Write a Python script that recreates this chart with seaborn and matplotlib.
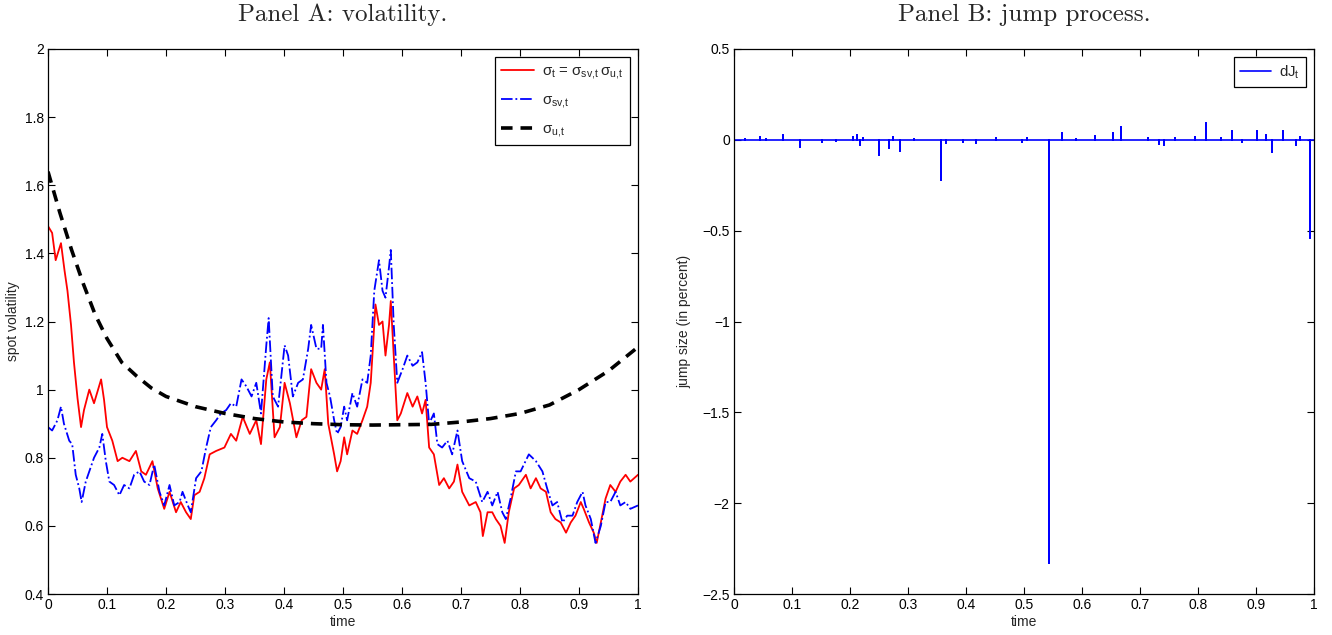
import numpy as np
import pandas as pd
import matplotlib
matplotlib.use("Agg")
import matplotlib.pyplot as plt
import seaborn as sns

# ---------------- data ----------------
t_total = [0, 0.007, 0.013, 0.022, 0.028, 0.033, 0.039, 0.044, 0.05, 0.056,
           0.061, 0.07, 0.078, 0.09, 0.095, 0.1, 0.109, 0.118, 0.126, 0.138,
           0.149, 0.158, 0.166, 0.177, 0.186, 0.197, 0.206, 0.217, 0.225, 0.234,
           0.242, 0.248, 0.257, 0.265, 0.274, 0.285, 0.299, 0.31, 0.319, 0.33,
           0.342, 0.353, 0.361, 0.37, 0.376, 0.384, 0.393, 0.401, 0.41, 0.421,
           0.43, 0.438, 0.446, 0.455, 0.463, 0.469, 0.475, 0.485, 0.49, 0.496,
           0.502, 0.507, 0.516, 0.524, 0.533, 0.541, 0.547, 0.553, 0.555, 0.561,
           0.567, 0.572, 0.578, 0.581, 0.586, 0.592, 0.598, 0.609, 0.618, 0.626,
           0.634, 0.64, 0.646, 0.654, 0.663, 0.671, 0.68, 0.688, 0.694, 0.702,
           0.714, 0.725, 0.733, 0.737, 0.745, 0.753, 0.759, 0.767, 0.774, 0.781,
           0.79, 0.798, 0.81, 0.818, 0.827, 0.835, 0.844, 0.852, 0.86, 0.869,
           0.878, 0.886, 0.894, 0.903, 0.908, 0.917, 0.925, 0.93, 0.937, 0.945,
           0.953, 0.962, 0.97, 0.979, 0.987, 1.0]
sigma_total = [1.48, 1.46, 1.38, 1.43, 1.35, 1.29, 1.19, 1.08, 0.975, 0.89,
               0.94, 1.0, 0.96, 1.03, 0.97, 0.89, 0.85, 0.79, 0.80, 0.79,
               0.82, 0.76, 0.75, 0.79, 0.71, 0.65, 0.70, 0.64, 0.67, 0.64,
               0.62, 0.69, 0.70, 0.74, 0.81, 0.82, 0.83, 0.87, 0.85, 0.92,
               0.87, 0.91, 0.84, 1.03, 1.08, 0.86, 0.89, 1.02, 0.96, 0.86,
               0.91, 0.92, 1.06, 1.02, 1.0, 1.06, 0.90, 0.81, 0.76, 0.79,
               0.86, 0.81, 0.88, 0.87, 0.91, 0.95, 1.02, 1.19, 1.25, 1.19,
               1.20, 1.10, 1.19, 1.26, 1.10, 0.91, 0.93, 0.99, 0.95, 0.98,
               0.93, 0.97, 0.83, 0.81, 0.72, 0.74, 0.71, 0.73, 0.78, 0.70,
               0.66, 0.67, 0.64, 0.57, 0.64, 0.64, 0.62, 0.60, 0.55, 0.64,
               0.71, 0.72, 0.75, 0.71, 0.74, 0.71, 0.70, 0.64, 0.62, 0.61,
               0.58, 0.61, 0.63, 0.67, 0.65, 0.61, 0.58, 0.55, 0.61, 0.68,
               0.72, 0.70, 0.73, 0.75, 0.73, 0.75]

t_sv = [0, 0.007, 0.016, 0.022, 0.027, 0.036, 0.041, 0.047, 0.053, 0.057,
        0.064, 0.07, 0.078, 0.087, 0.092, 0.098, 0.104, 0.112, 0.121, 0.129,
        0.138, 0.146, 0.155, 0.163, 0.172, 0.18, 0.189, 0.197, 0.206, 0.214,
        0.223, 0.228, 0.237, 0.242, 0.251, 0.26, 0.268, 0.276, 0.285, 0.293,
        0.302, 0.31, 0.319, 0.328, 0.336, 0.345, 0.353, 0.361, 0.37, 0.374,
        0.381, 0.39, 0.401, 0.407, 0.415, 0.424, 0.432, 0.441, 0.446, 0.455,
        0.463, 0.466, 0.472, 0.478, 0.485, 0.49, 0.496, 0.502, 0.507, 0.516,
        0.524, 0.533, 0.541, 0.547, 0.553, 0.561, 0.567, 0.572, 0.578, 0.581,
        0.586, 0.592, 0.601, 0.609, 0.618, 0.626, 0.634, 0.64, 0.646, 0.654,
        0.66, 0.668, 0.677, 0.685, 0.694, 0.702, 0.714, 0.725, 0.736, 0.745,
        0.753, 0.762, 0.77, 0.776, 0.784, 0.793, 0.801, 0.815, 0.827, 0.838,
        0.846, 0.855, 0.863, 0.872, 0.88, 0.889, 0.897, 0.906, 0.911, 0.92,
        0.928, 0.937, 0.945, 0.953, 0.962, 0.97, 0.979, 0.987, 1.0]
sigma_sv = [0.89, 0.88, 0.91, 0.95, 0.90, 0.85, 0.84, 0.75, 0.71, 0.67,
            0.73, 0.76, 0.80, 0.83, 0.87, 0.79, 0.73, 0.72, 0.69, 0.72,
            0.71, 0.75, 0.76, 0.73, 0.72, 0.78, 0.70, 0.66, 0.72, 0.66,
            0.67, 0.70, 0.66, 0.64, 0.74, 0.76, 0.83, 0.89, 0.91, 0.93,
            0.94, 0.96, 0.95, 1.03, 1.01, 0.98, 1.02, 0.93, 1.13, 1.21,
            0.98, 0.95, 1.13, 1.10, 0.98, 1.02, 1.03, 1.12, 1.19, 1.12,
            1.12, 1.19, 1.02, 0.98, 0.91, 0.87, 0.89, 0.95, 0.91, 0.99,
            0.95, 1.03, 1.02, 1.10, 1.29, 1.38, 1.29, 1.27, 1.36, 1.41,
            1.19, 1.02, 1.06, 1.10, 1.07, 1.08, 1.11, 1.02, 0.90, 0.93,
            0.84, 0.83, 0.85, 0.81, 0.88, 0.79, 0.74, 0.73, 0.67, 0.70,
            0.66, 0.70, 0.64, 0.62, 0.68, 0.76, 0.76, 0.81, 0.79, 0.76,
            0.71, 0.66, 0.67, 0.61, 0.63, 0.63, 0.67, 0.70, 0.66, 0.62,
            0.55, 0.60, 0.67, 0.67, 0.70, 0.66, 0.67, 0.65, 0.66]

t_u = [0, 0.01, 0.02, 0.03, 0.04, 0.06, 0.08, 0.1, 0.125, 0.15, 0.175, 0.2,
       0.25, 0.3, 0.35, 0.4, 0.45, 0.5, 0.55, 0.6, 0.65, 0.7, 0.75, 0.8,
       0.85, 0.9, 0.95, 1.0]
sigma_u = [1.64, 1.58, 1.52, 1.465, 1.41, 1.31, 1.22, 1.15, 1.08, 1.04, 1.005, 0.98,
           0.95, 0.93, 0.915, 0.905, 0.90, 0.897, 0.896, 0.897, 0.898, 0.905, 0.915, 0.93,
           0.955, 1.0, 1.055, 1.125]

jump_times = [0.019, 0.044, 0.055, 0.085, 0.113, 0.151, 0.175, 0.206, 0.212, 0.218,
              0.223, 0.25, 0.267, 0.274, 0.287, 0.31, 0.357, 0.365, 0.395, 0.418,
              0.451, 0.496, 0.505, 0.543, 0.566, 0.59, 0.622, 0.654, 0.667, 0.714,
              0.733, 0.742, 0.76, 0.795, 0.813, 0.84, 0.859, 0.875, 0.901, 0.917,
              0.927, 0.947, 0.969, 0.975, 0.993]
jump_sizes = [0.007, 0.016, 0.005, 0.024, -0.04, -0.013, -0.006, 0.015, 0.024, -0.031,
              0.009, -0.084, -0.046, 0.018, -0.062, 0.005, -0.22, -0.02, -0.01, -0.018,
              0.009, -0.01, 0.011, -2.33, 0.037, 0.005, 0.02, 0.037, 0.073, 0.009,
              -0.025, -0.031, 0.011, 0.018, 0.092, 0.008, 0.046, -0.013, 0.046, 0.027,
              -0.068, 0.046, -0.031, 0.015, -0.54]

x_ticks = [0, 0.1, 0.2, 0.3, 0.4, 0.5, 0.6, 0.7, 0.8, 0.9, 1]
x_ticklabels = ["0", "0.1", "0.2", "0.3", "0.4", "0.5", "0.6", "0.7", "0.8", "0.9", "1"]
yA_ticks = [0.4, 0.6, 0.8, 1.0, 1.2, 1.4, 1.6, 1.8, 2.0]
yA_ticklabels = ["0.4", "0.6", "0.8", "1", "1.2", "1.4", "1.6", "1.8", "2"]
yB_ticks = [-2.5, -2, -1.5, -1, -0.5, 0, 0.5]
yB_ticklabels = ["\u22122.5", "\u22122", "\u22121.5", "\u22121", "\u22120.5", "0", "0.5"]

# ---------------- style ----------------
sns.set_theme(style="ticks")
plt.rcParams["font.family"] = ["Liberation Sans", "DejaVu Sans"]
plt.rcParams["mathtext.fontset"] = "custom"
plt.rcParams["mathtext.rm"] = "Liberation Sans"
plt.rcParams["mathtext.it"] = "Liberation Sans"
plt.rcParams["mathtext.bf"] = "Liberation Sans:bold"

fig = plt.figure(figsize=(13.32, 6.35), dpi=100)
axA = fig.add_axes([48 / 1332, 1 - 594 / 635, 590 / 1332, 545 / 635])
axB = fig.add_axes([734 / 1332, 1 - 594 / 635, 580 / 1332, 545 / 635])

# Panel A
sns.lineplot(x=t_total, y=sigma_total, ax=axA, color="#ff0000", lw=1.3,
             sort=False, estimator=None,
             label=r"$\sigma_t$ = $\sigma_{sv,\!t}\,\sigma_{u,\!t}$")
sns.lineplot(x=t_sv, y=sigma_sv, ax=axA, color="#0000ff", lw=1.3,
             sort=False, estimator=None, linestyle="-.",
             label=r"$\sigma_{sv,\!t}$")
sns.lineplot(x=t_u, y=sigma_u, ax=axA, color="black", lw=2.6,
             sort=False, estimator=None, linestyle=(0, (3.2, 2.2)),
             label=r"$\sigma_{u,\!t}$")

# Panel B: jump path built from the jump arrays
path_x = [0.0]
path_y = [0.0]
for tj, sj in zip(jump_times, jump_sizes):
    path_x += [tj, tj, tj]
    path_y += [0.0, sj, 0.0]
path_x.append(1.0)
path_y.append(0.0)
sns.lineplot(x=path_x, y=path_y, ax=axB, color="#0000ff", lw=1.2,
             sort=False, estimator=None, label=r"dJ$_t$")

for ax in (axA, axB):
    ax.set_xlim(0, 1)
    ax.set_xticks(x_ticks)
    ax.set_xticklabels(x_ticklabels)
    ax.tick_params(direction="in", top=True, right=True, length=5, width=0.8,
                   labelsize=10, colors="black", pad=3)
    for s in ax.spines.values():
        s.set_visible(True)
        s.set_linewidth(0.9)
        s.set_color("black")
    ax.set_xlabel("time", fontsize=10, labelpad=2)
    ax.set_facecolor("white")

axA.set_ylim(0.4, 2.0)
axA.set_yticks(yA_ticks)
axA.set_yticklabels(yA_ticklabels)
axA.set_ylabel("spot volatility", fontsize=10, labelpad=3)

axB.set_ylim(-2.5, 0.5)
axB.set_yticks(yB_ticks)
axB.set_yticklabels(yB_ticklabels)
axB.set_ylabel("jump size (in percent)", fontsize=10, labelpad=8)

title_font = dict(family=["cmr10", "DejaVu Serif"], size=18)
axA.set_title("Panel A: volatility.", fontdict=title_font, pad=20)
axB.set_title("Panel B: jump process.", fontdict=title_font, pad=20)

legA = axA.legend(loc="upper right", fontsize=10.8, frameon=True, fancybox=False,
                  edgecolor="black", framealpha=1, borderaxespad=0.55,
                  handlelength=2.2, handletextpad=0.5, labelspacing=0.8,
                  borderpad=0.45)
legA.get_frame().set_linewidth(0.9)
legB = axB.legend(loc="upper right", fontsize=10.8, frameon=True, fancybox=False,
                  edgecolor="black", framealpha=1, borderaxespad=0.55,
                  handlelength=2.1, handletextpad=0.5, borderpad=0.4)
legB.get_frame().set_linewidth(0.9)

fig.savefig("out.png", dpi=100, facecolor="white")
